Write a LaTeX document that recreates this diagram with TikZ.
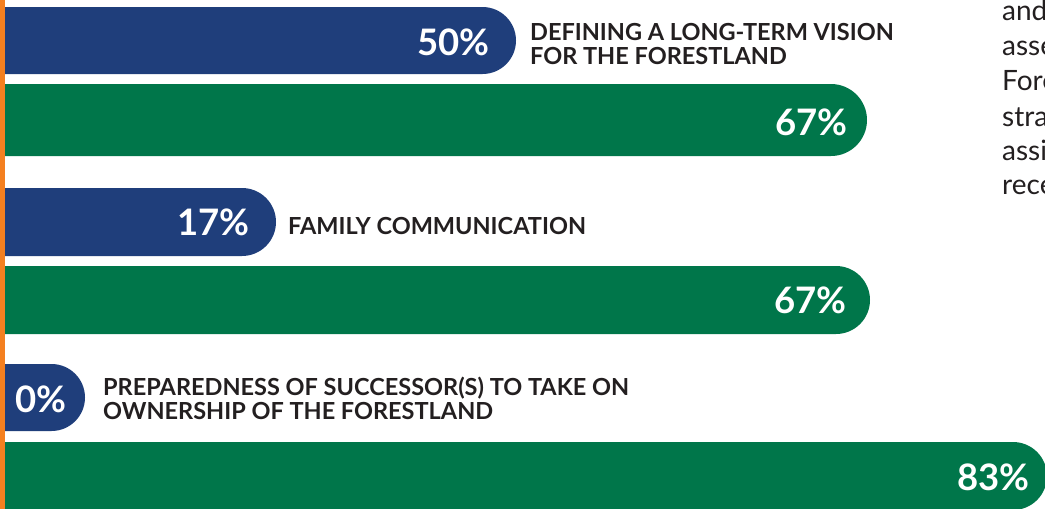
\documentclass[tikz,border=0pt]{standalone}
\usepackage{fontspec}
\setmainfont{Lato}
\definecolor{barblue}{RGB}{31,62,123}
\definecolor{bargreen}{RGB}{0,118,74}
\definecolor{stripe}{RGB}{244,128,32}
\definecolor{txtdark}{RGB}{35,31,32}
\tikzset{
  bluebar/.style={fill=barblue},
  greenbar/.style={fill=bargreen},
  pct/.style={anchor=base east, inner sep=0pt, text=white,
    font=\fontsize{36.5}{40}\selectfont\bfseries},
  lbl/.style={anchor=base west, inner sep=0pt, text=txtdark,
    font=\fontsize{23.5}{25}\selectfont\bfseries},
  para/.style={anchor=base west, inner sep=0pt, text=txtdark,
    font=\fontsize{28}{34}\selectfont}
}
\begin{document}
\begin{tikzpicture}[x=1pt,y=-1pt]
\useasboundingbox (0,0) rectangle (1045,509);
\clip (0,0) rectangle (1045,509);
% bars
\fill[bluebar, rounded corners=33.5pt] (-60,7) rectangle (516,74);
\fill[greenbar, rounded corners=36pt] (-60,84) rectangle (867,156);
\fill[bluebar, rounded corners=34pt] (-60,188) rectangle (276,256);
\fill[greenbar, rounded corners=34pt] (-60,266) rectangle (870,334);
\fill[bluebar, rounded corners=33.5pt] (-60,364) rectangle (85,431);
\fill[greenbar, rounded corners=34pt] (-60,442) rectangle (1047,510);
% orange stripe
\fill[stripe] (0,0) rectangle (5,509);
% percentages
\node[pct] (b1) at (490,55) {50\%};
\node[pct] (g1) at (848,135) {67\%};
\node[pct] (b2) at (250,235) {17\%};
\node[pct] (g2) at (847,313) {67\%};
\node[pct] (b3) at (67,412) {0\%};
\node[pct] (g3) at (1030,490) {83\%};
% labels
\node[lbl] (l1a) at (530,40) {DEFINING A LONG-TERM VISION};
\node[lbl] (l1b) at (530,64) {FOR THE FORESTLAND};
\node[lbl] (l2) at (288,234) {FAMILY COMMUNICATION};
\node[lbl] (l3a) at (103,395) {PREPAREDNESS OF SUCCESSOR(S) TO TAKE ON};
\node[lbl] (l3b) at (103,419) {OWNERSHIP OF THE FORESTLAND};
% cut paragraph at the right
\node[para] (p1) at (1002,20) {and};
\node[para] (p2) at (1002,55) {asse};
\node[para] (p3) at (1002,90) {Fore};
\node[para] (p4) at (1002,126) {stra};
\node[para] (p5) at (1002,160) {assi};
\node[para] (p6) at (1002,194) {rece};
\end{tikzpicture}
\end{document}
